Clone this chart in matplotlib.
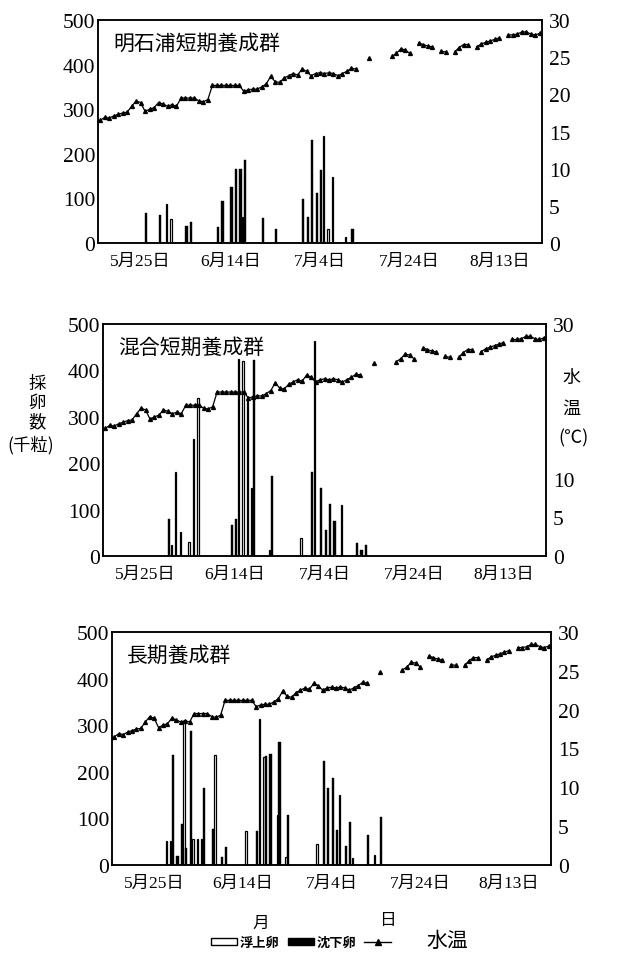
import numpy as np
import matplotlib
matplotlib.use('Agg')
import matplotlib.pyplot as plt
from matplotlib.patches import Patch
from matplotlib.lines import Line2D

plt.rcParams['font.family'] = ['Liberation Serif', 'Noto Sans CJK JP']

# ---------------- data (days counted from May 25) ----------------
date_tick_days = [0, 20, 40, 60, 80]
date_tick_labels = ['5月25日', '6月14日', '7月4日', '7月24日', '8月13日']
egg_ticks = [0, 100, 200, 300, 400, 500]
temp_ticks = [0, 5, 10, 15, 20, 25, 30]
# middle panel: the right-axis unit label takes the place of 15, 20, 25
temp_ticklabels_mid = ['0', '5', '10', '', '', '', '30']

panel_titles = ['明石浦短期養成群', '混合短期養成群', '長期養成群']

nan = np.nan
temp_days = list(range(-9, 90))
temp_vals = [
    16.5, 16.9, 16.8, 17.1, 17.3, 17.5, 17.6, 18.4, 19.1,          # -9..-1
    18.9, 17.7, 18.0, 18.2, 18.9, 18.7, 18.4, 18.6, 18.4,          # 0..8
    19.5, 19.5, 19.5, 19.5, 19.1, 19.0, 19.3,                      # 9..15
    21.2, 21.2, 21.2, 21.2, 21.2, 21.2, 21.2,                      # 16..22
    20.4, 20.6, 20.7, 20.7, 21.0, 21.4, 22.4, 21.7, 21.6, 22.2,    # 23..32
    22.5, 22.8, 22.6, 23.4, 23.1, 22.5, 22.8, 22.9, 22.8, 22.9,    # 33..42
    22.8, 22.5, 22.8, 23.1, 23.5, 23.4,                            # 43..48
    nan, nan, 24.9, nan, nan, nan, nan,                            # 49..55
    25.1, 25.5, 26.1, 26.0, 25.5, nan,                             # 56..61
    26.9, 26.7, 26.5, 26.4, nan,                                   # 62..66
    25.8, 25.7, nan,                                               # 67..69
    25.7, 26.3, 26.7, 26.7, nan,                                   # 70..74
    26.4, 26.8, 27.0, 27.2, 27.4, 27.6, nan,                       # 75..81
    28.0, 28.0, 28.1, 28.4, 28.4, 28.1, 28.0, 28.2,                # 82..89
]

# 明石浦短期養成群
p1_float_days = [6, 7, 23, 41, 42, 43, 46]
p1_float_vals = [88, 53, 58, 240, 32, 149, 13]
p1_sink_days = [1, 4, 10, 11, 17, 18, 20, 21, 22, 23, 27, 30, 36, 37, 38, 39, 40, 47]
p1_sink_vals = [68, 62, 39, 48, 36, 95, 125, 167, 165, 186, 56, 32, 99, 59, 230, 112, 163, 32]

# 混合短期養成群
p2_float_days = [6, 7, 8, 10, 11, 12, 21, 22, 23, 24, 28, 35, 38, 44]
p2_float_vals = [23, 182, 52, 30, 253, 340, 424, 420, 341, 147, 12, 39, 463, 109]
p2_sink_days = [5, 19, 20, 24, 28, 37, 39, 40, 41, 42, 47, 48, 49]
p2_sink_vals = [79, 66, 80, 422, 172, 180, 147, 55, 111, 75, 27, 12, 24]

# 長期養成群
p3_float_days = [3, 4, 7, 9, 10, 11, 14, 21, 24, 25, 28, 30, 37, 42, 45, 50]
p3_float_vals = [52, 52, 308, 55, 55, 55, 235, 73, 313, 232, 107, 18, 46, 150, 15, 22]
p3_sink_days = [4, 5, 6, 7, 8, 11, 13, 15, 16, 23, 25, 26, 28, 30, 38, 39, 40, 41, 43, 44, 48, 51]
p3_sink_vals = [236, 19, 88, 37, 287, 165, 78, 18, 39, 72, 234, 238, 264, 108, 224, 165, 187, 75, 40, 92, 64, 102]

float_days = [p1_float_days, p2_float_days, p3_float_days]
float_vals = [p1_float_vals, p2_float_vals, p3_float_vals]
sink_days = [p1_sink_days, p2_sink_days, p3_sink_days]
sink_vals = [p1_sink_vals, p2_sink_vals, p3_sink_vals]

# ---------------- figure ----------------
W, H = 626, 954
fig = plt.figure(figsize=(W / 100, H / 100), dpi=100)

# axes boxes in pixels: left, top, right, bottom
boxes = [(98, 21, 542, 244), (103, 325, 546, 557), (112, 633, 551, 866)]

for i, (l, t, r, b) in enumerate(boxes):
    ax = fig.add_axes([l / W, 1 - b / H, (r - l) / W, (b - t) / H])
    ax2 = ax.twinx()
    fd = np.array(float_days[i], dtype=float)
    sd = np.array(sink_days[i], dtype=float)
    ax.bar(fd - 0.25, float_vals[i], width=0.3, color='white',
           edgecolor='black', linewidth=0.9, zorder=2)
    ax.bar(sd + 0.25, sink_vals[i], width=0.5, color='black',
           edgecolor='black', linewidth=0.3, zorder=2)
    ax2.plot(temp_days, temp_vals, color='black', linewidth=0.9,
             marker='^', markersize=2.8, zorder=3)

    ax.set_xlim(-9.5, 89.5)
    ax.set_ylim(0, 500)
    ax2.set_ylim(0, 30)
    ax.set_yticks(egg_ticks)
    ax2.set_yticks(temp_ticks)
    if i == 1:
        ax2.set_yticklabels(temp_ticklabels_mid)
    ax.set_xticks(date_tick_days)
    ax.set_xticklabels(date_tick_labels, fontsize=12.5)
    ax.tick_params(axis='x', length=0, pad=7)
    ax.tick_params(axis='y', length=0, pad=2, labelsize=15.5)
    ax2.tick_params(axis='y', length=0, pad=5, labelsize=15.5)
    for a in (ax, ax2):
        for s in a.spines.values():
            s.set_linewidth(1.1)
            s.set_color('black')
    ax.text(0.035, 0.9, panel_titles[i], transform=ax.transAxes,
            fontsize=15, family='Noto Sans CJK JP', va='center', ha='left')

# axis labels
fig.text(37 / W, 1 - 403 / H, '採\n卵\n数', fontsize=12.5, ha='center', va='center',
         family='Noto Sans CJK JP', linespacing=1.1)
fig.text(31 / W, 1 - 445 / H, '(千粒)', fontsize=12.5, ha='center', va='center',
         family=['Noto Sans CJK JP'])
fig.text(571 / W, 1 - 378 / H, '水', fontsize=13, ha='center', va='center',
         family='Noto Sans CJK JP')
fig.text(571 / W, 1 - 409 / H, '温', fontsize=13, ha='center', va='center',
         family='Noto Sans CJK JP')
fig.text(573 / W, 1 - 438 / H, '(℃)', fontsize=13, ha='center', va='center',
         family=['Noto Sans CJK JP', 'DejaVu Sans'])

# 月 / 日 under the x axis
fig.text(261 / W, 1 - 923 / H, '月', fontsize=12, ha='center', va='center',
         family='Noto Sans CJK JP')
fig.text(387 / W, 1 - 921 / H, '日', fontsize=12, ha='center', va='center',
         family='Noto Sans CJK JP')

# legend
handles = [Patch(facecolor='white', edgecolor='black', linewidth=1.0),
           Patch(facecolor='black', edgecolor='black'),
           Line2D([], [], color='black', linewidth=1.0, marker='^', markersize=4)]
fig.legend(handles, ['浮上卵', '沈下卵', ''], ncol=3, loc='center left',
           bbox_to_anchor=(211 / W, 1 - 943 / H), frameon=False,
           prop={'family': 'Noto Sans CJK JP', 'weight': 'bold', 'size': 9.5},
           handlelength=2.0, handleheight=0.45, handletextpad=0.2,
           columnspacing=0.6, borderpad=0, borderaxespad=0)
fig.text(447 / W, 1 - 941 / H, '水温', fontsize=15, ha='center', va='center',
         family='Noto Sans CJK JP')

fig.savefig('out.png', dpi=100)
